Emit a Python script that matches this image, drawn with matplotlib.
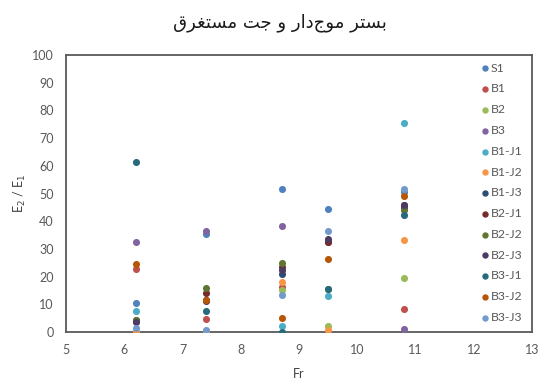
import numpy as np
import matplotlib
matplotlib.use("Agg")
import matplotlib.pyplot as plt

# --- data ---
fr = [6.2, 7.4, 8.7, 9.5, 10.8]
series = ["S1", "B1", "B2", "B3", "B1-J1", "B1-J2", "B1-J3",
          "B2-J1", "B2-J2", "B2-J3", "B3-J1", "B3-J2", "B3-J3"]
S1 = [10.3, 35.5, 51.8, 44.3, 50.5]
B1 = [22.8, 4.7, 16.4, 0.5, 8.4]
B2 = [0.5, 0.5, 15.0, 2.2, 19.6]
B3 = [32.5, 36.5, 38.3, 32.5, 1.0]
B1_J1 = [7.7, 0.5, 2.2, 13.1, 75.3]
B1_J2 = [0.0, 0.5, 18.2, 0.7, 33.2]
B1_J3 = [4.5, 11.5, 21.0, 33.0, 44.7]
B2_J1 = [3.8, 14.2, 23.6, 32.5, 46.0]
B2_J2 = [4.5, 15.8, 25.0, 15.6, 44.0]
B2_J3 = [3.5, 11.2, 22.4, 33.5, 45.8]
B3_J1 = [61.3, 7.7, 0.1, 15.4, 42.2]
B3_J2 = [24.5, 11.5, 5.2, 26.2, 49.0]
B3_J3 = [1.4, 0.7, 13.4, 36.6, 51.5]
values = [S1, B1, B2, B3, B1_J1, B1_J2, B1_J3,
          B2_J1, B2_J2, B2_J3, B3_J1, B3_J2, B3_J3]

colors = ["#4F81BD", "#C0504D", "#9BBB59", "#8064A2", "#4BACC6", "#F79646",
          "#2C4D75", "#772C2A", "#5F7530", "#4D3B62", "#276A7C", "#B65708",
          "#729ACA"]

title = "بستر موج\u200cدار و جت مستغرق"

# minimal arabic shaping (matplotlib has none): (iso, fin, ini, med)
FORMS = {
    "ب": (0xFE8F, 0xFE90, 0xFE91, 0xFE92),
    "س": (0xFEB1, 0xFEB2, 0xFEB3, 0xFEB4),
    "ت": (0xFE95, 0xFE96, 0xFE97, 0xFE98),
    "م": (0xFEE1, 0xFEE2, 0xFEE3, 0xFEE4),
    "ج": (0xFE9D, 0xFE9E, 0xFE9F, 0xFEA0),
    "غ": (0xFECD, 0xFECE, 0xFECF, 0xFED0),
    "ق": (0xFED5, 0xFED6, 0xFED7, 0xFED8),
    "ر": (0xFEAD, 0xFEAE, None, None),
    "و": (0xFEED, 0xFEEE, None, None),
    "د": (0xFEA9, 0xFEAA, None, None),
    "ا": (0xFE8D, 0xFE8E, None, None),
}


def shape(text):
    out = []
    for i, ch in enumerate(text):
        if ch not in FORMS:
            if ch != "\u200c":
                out.append(ch)
            continue
        prev = text[i - 1] if i > 0 else ""
        nxt = text[i + 1] if i + 1 < len(text) else ""
        join_prev = prev in FORMS and FORMS[prev][2] is not None
        join_next = nxt in FORMS and FORMS[ch][2] is not None
        f = FORMS[ch]
        if join_prev and join_next:
            code = f[3]
        elif join_prev:
            code = f[1]
        elif join_next:
            code = f[2]
        else:
            code = f[0]
        out.append(chr(code))
    return "".join(out[::-1])


plt.rcParams["font.family"] = ["Lato", "DejaVu Sans"]

fig = plt.figure(figsize=(5.43, 3.8), dpi=100)
ax = fig.add_axes([66 / 543, 1 - 332 / 380, 466 / 543, 277 / 380])

for name, vals, c in zip(series, values, colors):
    ax.scatter(fr, vals, s=26, color=c, label=name, linewidths=0, zorder=3)

ax.set_xlim(5, 13)
ax.set_ylim(0, 100)
ax.set_xticks(np.arange(5, 14, 1))
ax.set_yticks(np.arange(0, 101, 10))
ax.tick_params(length=0, labelsize=9, colors="#595959", pad=9)
for sp in ax.spines.values():
    sp.set_color("#595959")
    sp.set_linewidth(1.3)

ax.set_xlabel("Fr", fontsize=9, color="#404040", labelpad=8)
ax.set_ylabel("E$_2$ / E$_1$", fontsize=9, color="#404040", labelpad=3)

leg = ax.legend(loc="upper left", bbox_to_anchor=(0.875, 0.99), frameon=False,
                fontsize=8.8, labelspacing=0.8, handletextpad=0.0,
                borderaxespad=0, markerscale=0.9, handlelength=1.0)
for t in leg.get_texts():
    t.set_color("#595959")

fig.text(0.516, 0.94, shape(title), ha="center", va="center", fontsize=13,
         family=["DejaVu Sans"], color="#1a1a1a")

fig.savefig("out.png", dpi=100)
